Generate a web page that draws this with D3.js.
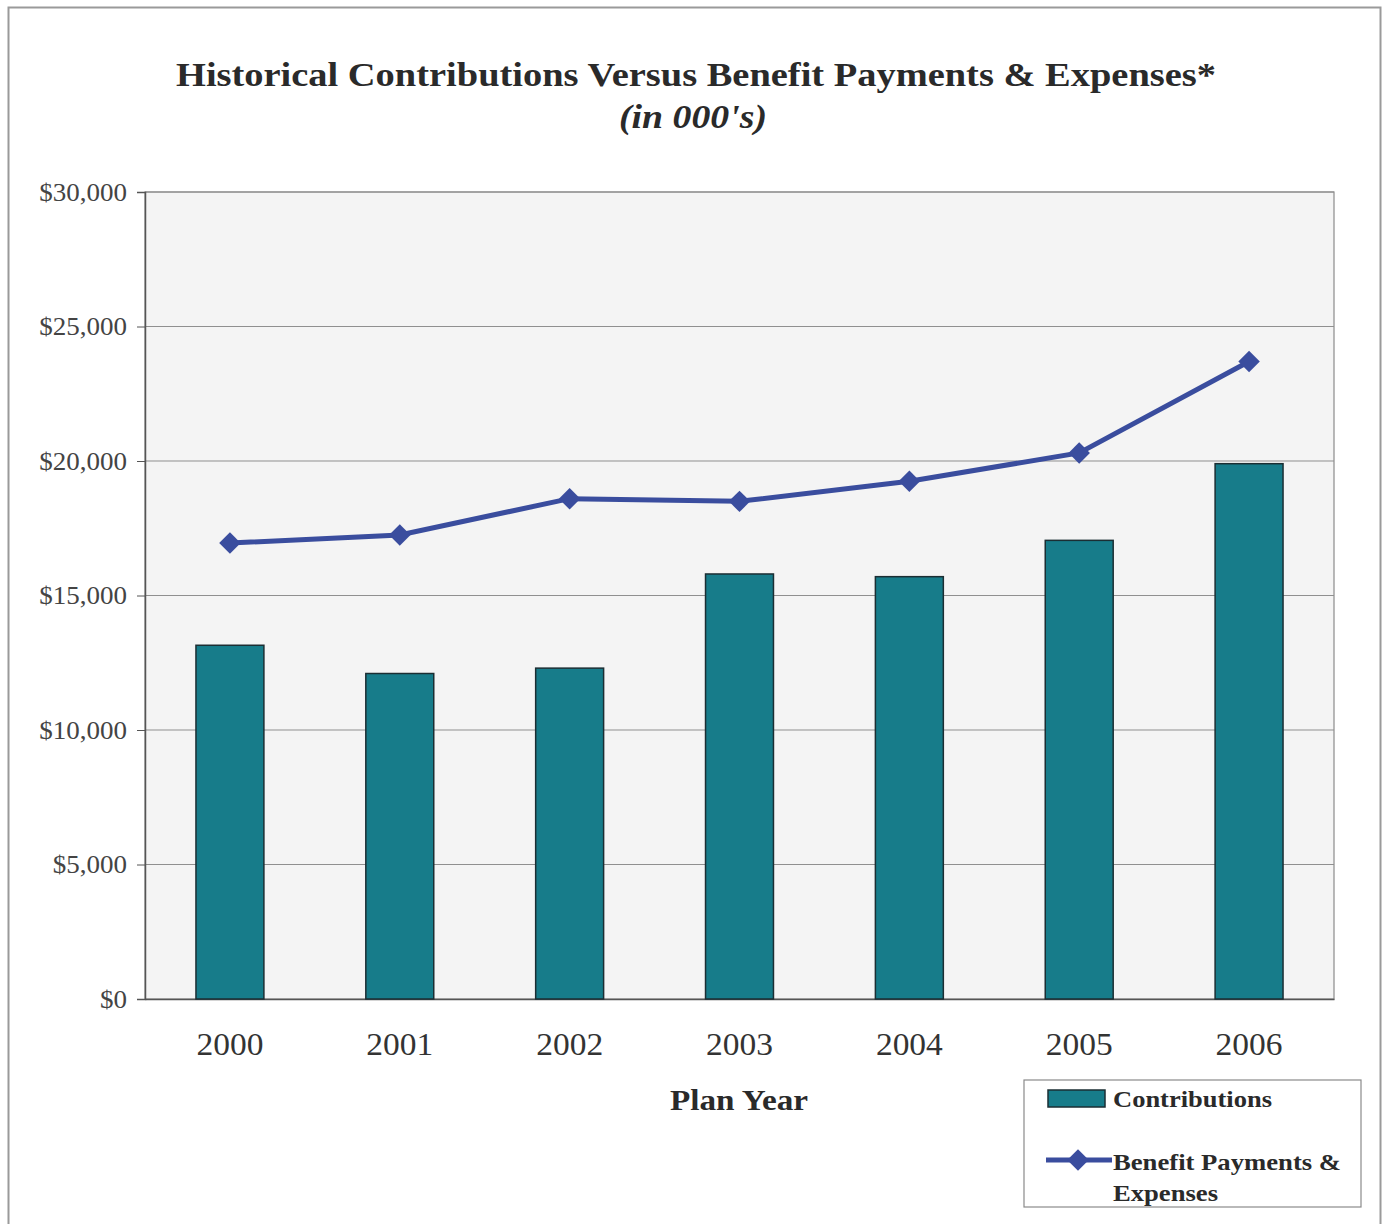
<!DOCTYPE html>
<html>
<head>
<meta charset="utf-8">
<script src="https://cdn.jsdelivr.net/npm/d3@7"></script>
<style>
  body { margin: 0; background: #fff; }
  svg text { font-family: "Liberation Serif", "DejaVu Serif", serif; }
</style>
</head>
<body>
<script>
// chart values (in 000's)
var years = ["2000", "2001", "2002", "2003", "2004", "2005", "2006"];
var contributions = [13150, 12100, 12300, 15800, 15700, 17050, 19900];
var benefits = [16950, 17250, 18600, 18500, 19250, 20300, 23700];
var yTicks = [0, 5000, 10000, 15000, 20000, 25000, 30000];

var W = 1382, H = 1224;
var m = {left: 145, right: 48, top: 192, bottom: 225};

var svg = d3.select("body").append("svg").attr("width", W).attr("height", H);

// the scan is a bit wider than the font, so stretch text horizontally
function stretch(sel, k) {
  sel.each(function() {
    var t = d3.select(this);
    t.attr("textLength", this.getComputedTextLength() * k).attr("lengthAdjust", "spacingAndGlyphs");
  });
}

// outer frame
svg.append("rect").attr("x", 8.5).attr("y", 7.5).attr("width", 1372).attr("height", 1230)
  .attr("fill", "#fff").attr("stroke", "#9a9a9a").attr("stroke-width", 2);

svg.append("text").attr("x", 696).attr("y", 86).attr("text-anchor", "middle")
  .attr("font-size", 34).attr("font-weight", "bold").attr("fill", "#2a2a2a")
  .attr("textLength", 1040).attr("lengthAdjust", "spacingAndGlyphs")
  .text("Historical Contributions Versus Benefit Payments & Expenses*");
svg.append("text").attr("x", 693).attr("y", 128).attr("text-anchor", "middle")
  .attr("font-size", 34).attr("font-weight", "bold").attr("font-style", "italic").attr("fill", "#2a2a2a")
  .attr("textLength", 148).attr("lengthAdjust", "spacingAndGlyphs")
  .text("(in 000's)");

var pw = W - m.left - m.right, ph = H - m.top - m.bottom;
var x = d3.scaleBand().domain(years).range([m.left, m.left + pw]).paddingInner(0.6).paddingOuter(0.3);
var y = d3.scaleLinear().domain([0, 30000]).range([m.top + ph, m.top]);

svg.append("rect").attr("x", m.left).attr("y", m.top).attr("width", pw).attr("height", ph)
  .attr("fill", "#f4f4f4").attr("stroke", "#8a8a8a").attr("stroke-width", 1.2);

// gridlines
svg.append("g").selectAll("line").data(yTicks.slice(1)).join("line")
  .attr("x1", m.left).attr("x2", m.left + pw)
  .attr("y1", function(d){ return y(d); }).attr("y2", function(d){ return y(d); })
  .attr("stroke", "#8f8f8f").attr("stroke-width", 1);

// y axis
var yAxis = svg.append("g").attr("transform", "translate(" + m.left + ",0)")
  .call(d3.axisLeft(y).tickValues(yTicks).tickSize(8).tickPadding(10)
    .tickFormat(function(d){ return "$" + d3.format(",")(d); }));
yAxis.select(".domain").attr("stroke", "#555").attr("stroke-width", 1.5);
yAxis.selectAll(".tick line").attr("stroke", "#555");
yAxis.selectAll("text").attr("font-size", 25).attr("fill", "#444")
  .style("font-family", "Liberation Serif").call(stretch, 1.08);

// x axis
var xAxis = svg.append("g").attr("transform", "translate(0," + (m.top + ph) + ")")
  .call(d3.axisBottom(x).tickSize(0).tickPadding(34));
xAxis.select(".domain").attr("stroke", "#555").attr("stroke-width", 1.5);
xAxis.selectAll("text").attr("font-size", 31).attr("fill", "#333")
  .style("font-family", "Liberation Serif").call(stretch, 1.08);

svg.append("text").attr("x", 739).attr("y", 1110).attr("text-anchor", "middle")
  .attr("font-size", 29).attr("font-weight", "bold").attr("fill", "#2a2a2a")
  .attr("textLength", 138).attr("lengthAdjust", "spacingAndGlyphs").text("Plan Year");

// bars
svg.append("g").selectAll("rect").data(contributions).join("rect")
  .attr("x", function(d, i){ return x(years[i]); })
  .attr("y", function(d){ return y(d); })
  .attr("width", x.bandwidth())
  .attr("height", function(d){ return y(0) - y(d); })
  .attr("fill", "#177c8a").attr("stroke", "#1b2e33").attr("stroke-width", 1.5);

// line
var line = d3.line()
  .x(function(d, i){ return x(years[i]) + x.bandwidth() / 2; })
  .y(function(d){ return y(d); });
svg.append("path").datum(benefits).attr("d", line)
  .attr("fill", "none").attr("stroke", "#3a4d9e").attr("stroke-width", 5);
var diamond = d3.symbol().type(d3.symbolSquare).size(230);
svg.append("g").selectAll("path").data(benefits).join("path")
  .attr("d", diamond)
  .attr("transform", function(d, i){ return "translate(" + (x(years[i]) + x.bandwidth() / 2) + "," + y(d) + ") rotate(45)"; })
  .attr("fill", "#3a4d9e");

// legend
var lg = svg.append("g").attr("transform", "translate(1024,1080)");
lg.append("rect").attr("width", 337).attr("height", 127)
  .attr("fill", "#fff").attr("stroke", "#8a8a8a").attr("stroke-width", 1.2);
lg.append("rect").attr("x", 24).attr("y", 10).attr("width", 57).attr("height", 17)
  .attr("fill", "#177c8a").attr("stroke", "#1b2e33").attr("stroke-width", 1.5);
lg.append("text").attr("x", 89).attr("y", 27).attr("font-size", 24).attr("font-weight", "bold")
  .attr("fill", "#2a2a2a").attr("textLength", 159).attr("lengthAdjust", "spacingAndGlyphs").text("Contributions");
lg.append("line").attr("x1", 22).attr("x2", 88).attr("y1", 80).attr("y2", 80)
  .attr("stroke", "#3a4d9e").attr("stroke-width", 5);
lg.append("path").attr("d", diamond).attr("transform", "translate(54,80) rotate(45)").attr("fill", "#3a4d9e");
lg.append("text").attr("x", 89).attr("y", 90).attr("font-size", 24).attr("font-weight", "bold")
  .attr("fill", "#2a2a2a").attr("textLength", 228).attr("lengthAdjust", "spacingAndGlyphs").text("Benefit Payments &");
lg.append("text").attr("x", 89).attr("y", 121).attr("font-size", 24).attr("font-weight", "bold")
  .attr("fill", "#2a2a2a").attr("textLength", 105).attr("lengthAdjust", "spacingAndGlyphs").text("Expenses");
</script>
</body>
</html>
